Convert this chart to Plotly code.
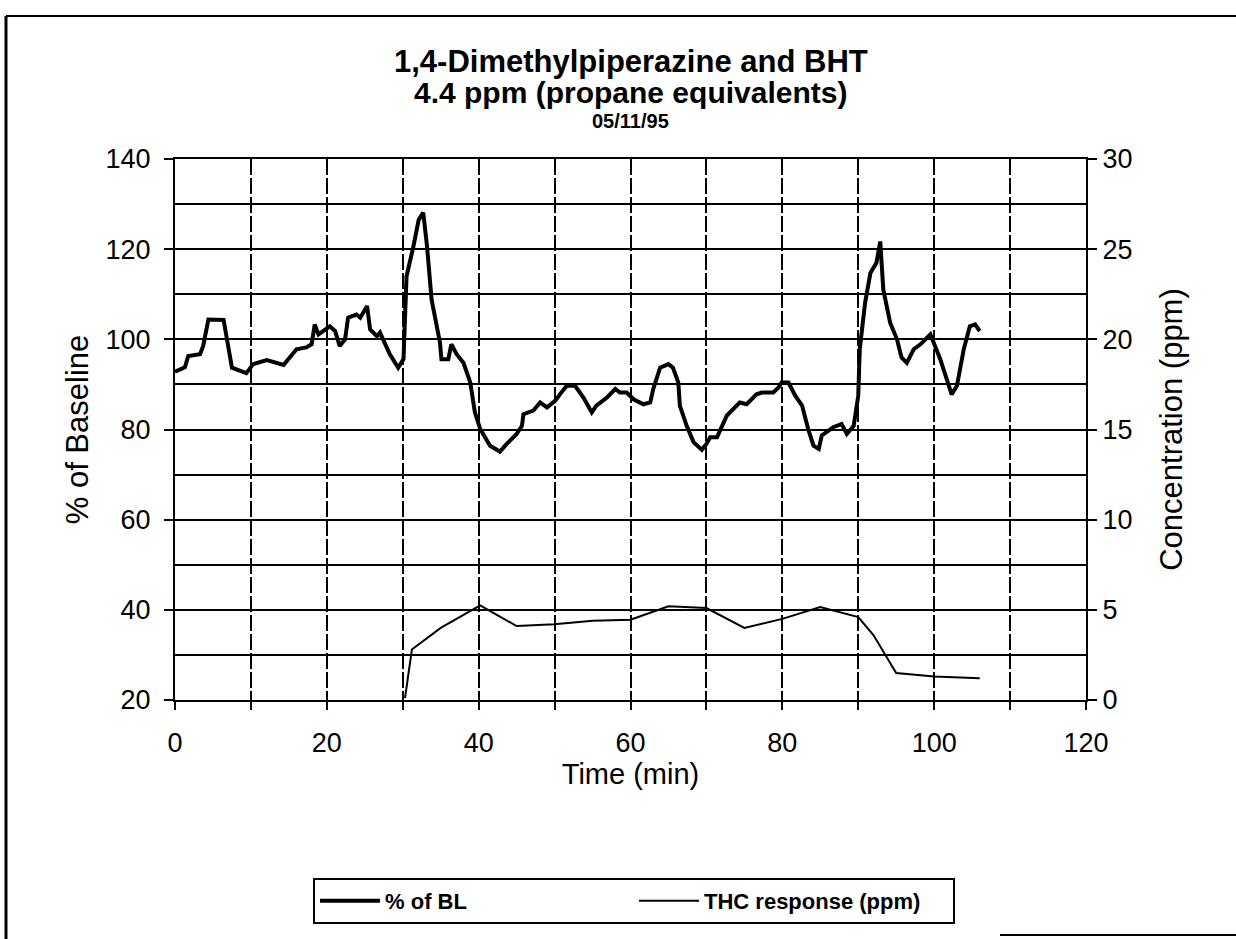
import plotly.graph_objects as go

# % of baseline (left axis)
bl_time = [0, 1.3, 1.75, 3.3, 3.7, 4.4, 6.4, 7.5, 9.4, 10.3, 12.1, 13.2, 14.3, 16, 17.3, 18,
           18.4, 18.9, 20.4, 21.1, 21.7, 22.4, 22.8, 23.9, 24.4, 25.3, 25.7, 26.6, 27, 28.3,
           29.4, 30.1, 30.5, 31.4, 32.1, 32.7, 33.2, 33.8, 34.9, 35.1, 36, 36.4, 37.1, 38,
           38.9, 39.5, 40.2, 41.5, 42.8, 43.7, 45, 45.7, 45.9, 47.2, 48.1, 49, 50.1, 50.7,
           51.6, 52.7, 53.8, 54.9, 55.5, 56.9, 58, 58.6, 59.5, 60.4, 61.7, 62.6, 63, 63.9,
           65, 65.6, 66.3, 66.5, 67.4, 68.3, 69.4, 70, 70.5, 71.4, 72.7, 74.4, 75.3, 76.6,
           77.3, 78.8, 79.5, 79.9, 80.8, 81.7, 82.6, 83.4, 84.1, 84.8, 85.2, 86.7, 87.8,
           88.5, 89.4, 90, 90.2, 90.9, 91.6, 92.4, 92.9, 93.3, 94.2, 95.1, 95.7, 96.4, 97.3,
           98.2, 99.5, 100.8, 101.7, 102.3, 103, 103.9, 104.7, 105.4, 106]
bl_pct = [92.8, 93.8, 96.3, 96.7, 98.5, 104.4, 104.3, 93.7, 92.5, 94.5, 95.4, 94.8, 94.3, 97.8,
          98.2, 98.9, 103.3, 101.1, 102.9, 101.8, 98.5, 100, 104.8, 105.5, 104.8, 107.4,
          102.2, 100.7, 101.5, 96.7, 93.7, 95.6, 114, 120.6, 126.5, 128.1, 120.6, 108.8,
          99.3, 95.6, 95.6, 98.9, 96.7, 94.8, 90.4, 83.8, 80.1, 76.4, 75.1, 76.8, 79, 80.8,
          83.4, 84.2, 86, 84.9, 86.4, 87.8, 89.7, 89.7, 87.1, 83.8, 85.3, 87.1, 89, 88.2,
          88.2, 86.7, 85.6, 86, 89, 93.7, 94.5, 93.7, 90.4, 85.3, 80.8, 77.2, 75.5, 76.8,
          78.3, 78.3, 83.1, 86, 85.6, 87.8, 88.2, 88.2, 89.3, 90.4, 90.4, 87.5, 85.3, 80.1,
          76.4, 75.7, 78.7, 80.5, 81.2, 79, 80.8, 87.5, 97.8, 108.1, 114.7, 117, 121.7, 111,
          103.7, 100, 96, 94.8, 97.8, 98.9, 101.1, 95.6, 91.2, 87.8, 89.7, 97.8, 102.9,
          103.3, 101.8]

# THC response (right axis, ppm)
thc_time = [30.3, 31.2, 35, 40.2, 45, 50, 55, 60, 65, 70, 75, 80, 85, 90, 92, 95, 100, 106]
thc_ppm = [0.1, 2.8, 4.0, 5.25, 4.1, 4.2, 4.4, 4.45, 5.2, 5.1, 4.0, 4.5, 5.15, 4.6, 3.6, 1.5, 1.3, 1.2]

FONT = "Liberation Sans, Arial, sans-serif"

fig = go.Figure()
fig.add_trace(go.Scatter(x=bl_time, y=bl_pct, mode="lines", name="% of BL",
                         line=dict(color="black", width=4), yaxis="y"))
fig.add_trace(go.Scatter(x=thc_time, y=thc_ppm, mode="lines", name="THC response (ppm)",
                         line=dict(color="black", width=2), yaxis="y2"))

grid_dash = "16px,3px"
fig.update_layout(
    width=1236, height=939,
    margin=dict(l=175, r=150, t=159, b=239),
    paper_bgcolor="white", plot_bgcolor="white",
    font=dict(family=FONT, color="black", size=24),
    showlegend=True,
    xaxis=dict(range=[0, 120], tick0=0, dtick=20, showgrid=True, gridcolor="black",
               gridwidth=1.5, griddash=grid_dash, ticks="outside", ticklen=8,
               tickcolor="black", tickwidth=1.5, zeroline=False,
               showline=True, linecolor="black", linewidth=2, mirror=True,
               tickfont=dict(size=27), ticklabelstandoff=10,
               title=dict(text="Time (min)", font=dict(size=29), standoff=0),
               minor=dict(dtick=10, showgrid=True, gridcolor="black", gridwidth=1.5,
                          griddash=grid_dash, ticks="outside", ticklen=8,
                          tickcolor="black")),
    yaxis=dict(range=[20, 140], tick0=20, dtick=20, showgrid=True, gridcolor="black",
               gridwidth=2, ticks="outside", ticklen=9, tickcolor="black", tickwidth=2,
               zeroline=False, showline=True, linecolor="black", linewidth=2, mirror=True,
               tickfont=dict(size=27), ticklabelstandoff=8,
               title=dict(text="% of Baseline", font=dict(size=31), standoff=8),
               minor=dict(dtick=10, showgrid=True, gridcolor="black", gridwidth=2)),
    yaxis2=dict(range=[0, 30], dtick=5, overlaying="y", side="right", showgrid=False,
                ticks="outside", ticklen=10, tickcolor="black", tickwidth=2, zeroline=False,
                showline=False, tickfont=dict(size=27),
                title=dict(text="Concentration (ppm)", font=dict(size=31), standoff=28)),
    legend=dict(orientation="h", x=0.1515, xanchor="left", y=-0.329, yanchor="top",
                bordercolor="black", borderwidth=2, bgcolor="white",
                font=dict(size=22, family=FONT, weight="bold"),
                entrywidth=244, entrywidthmode="pixels", itemwidth=60),
)

fig.add_annotation(text="<b>1,4-Dimethylpiperazine and BHT</b>", xref="paper", yref="paper",
                   x=0.5, y=(700 - 62) / 541, xanchor="center", yanchor="middle",
                   showarrow=False, font=dict(size=31))
fig.add_annotation(text="<b>4.4 ppm (propane equivalents)</b>", xref="paper", yref="paper",
                   x=0.5, y=(700 - 92) / 541, xanchor="center", yanchor="middle",
                   showarrow=False, font=dict(size=30))
fig.add_annotation(text="<b>05/11/95</b>", xref="paper", yref="paper",
                   x=0.5, y=(700 - 121) / 541, xanchor="center", yanchor="middle",
                   showarrow=False, font=dict(size=20))

# outer chart-area frame (scan border)
px2x = lambda p: (p - 175) / 911
px2y = lambda p: (700 - p) / 541
fig.add_shape(type="line", xref="paper", yref="paper", x0=px2x(6), x1=px2x(1236),
              y0=px2y(16), y1=px2y(16), line=dict(color="black", width=2))
fig.add_shape(type="line", xref="paper", yref="paper", x0=px2x(6), x1=px2x(6),
              y0=px2y(16), y1=px2y(939), line=dict(color="black", width=3))
fig.add_shape(type="line", xref="paper", yref="paper", x0=px2x(1000), x1=px2x(1236),
              y0=px2y(935), y1=px2y(935), line=dict(color="black", width=2))

fig.write_html("out.html")
